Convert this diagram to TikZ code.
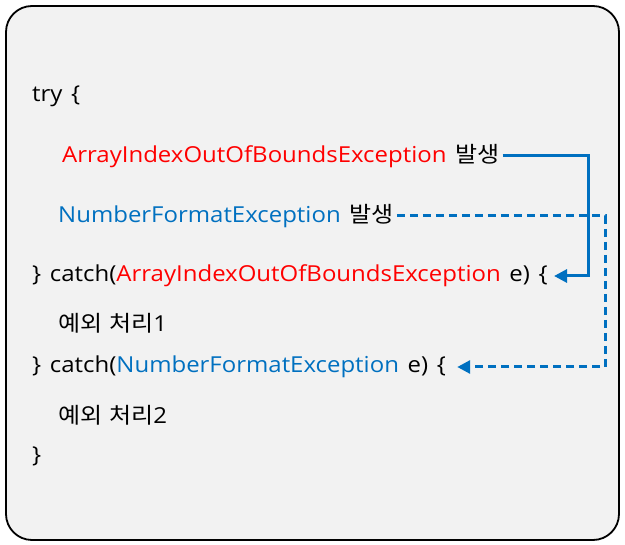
\documentclass[tikz,border=0pt]{standalone}
\usepackage{fontspec}
\setmainfont{Open Sans}[FakeStretch=1.09,WordSpace=1.4]
\newfontfamily\kr{Noto Sans CJK KR}[FakeStretch=1.09,WordSpace=1.3]
\usetikzlibrary{arrows.meta,calc}
\definecolor{bgc}{HTML}{F2F2F2}
\definecolor{blu}{HTML}{0070C0}
\definecolor{rd}{HTML}{FF0000}
\begin{document}
\begin{tikzpicture}[x=1pt,y=-1pt,
  txt/.style={anchor=west,inner sep=3pt,font=\fontsize{22}{24}\selectfont},
  link/.style={draw=blu,line width=3pt,-{Triangle[length=13pt,width=13pt]}},
  dlink/.style={link,dash pattern=on 8pt off 5pt}]
\useasboundingbox (0,0) rectangle (625,545);
\draw[fill=bgc,line width=1.8pt,rounded corners=26pt] (6,6) rectangle (619,540);
\node[txt] (t0) at (29,96) {try \{};
\node[txt] (t1) at (59,156) {\textcolor{rd}{ArrayIndexOutOfBoundsException} {\kr 발생}};
\node[txt] (t2) at (55,216) {\textcolor{blu}{NumberFormatException} {\kr 발생}};
\node[txt] (t3) at (29,276) {\} catch(\textcolor{rd}{ArrayIndexOutOfBoundsException} e) \{};
\node[txt] (t4) at (55,323) {{\kr 예외 처리}1};
\node[txt] (t5) at (29,367) {\} catch(\textcolor{blu}{NumberFormatException} e) \{};
\node[txt] (t6) at (55,415) {{\kr 예외 처리}2};
\node[txt] (t7) at (29,456) {\}};
\coordinate (r1) at (588,0);
\coordinate (r2) at (605,0);
\draw[link] (t1.east) -| (r1 |- t3.east) -- ([xshift=3pt]t3.east);
\draw[dlink] (t2.east) -| (r2 |- t5.east) -- ([xshift=8pt]t5.east);
\end{tikzpicture}
\end{document}
